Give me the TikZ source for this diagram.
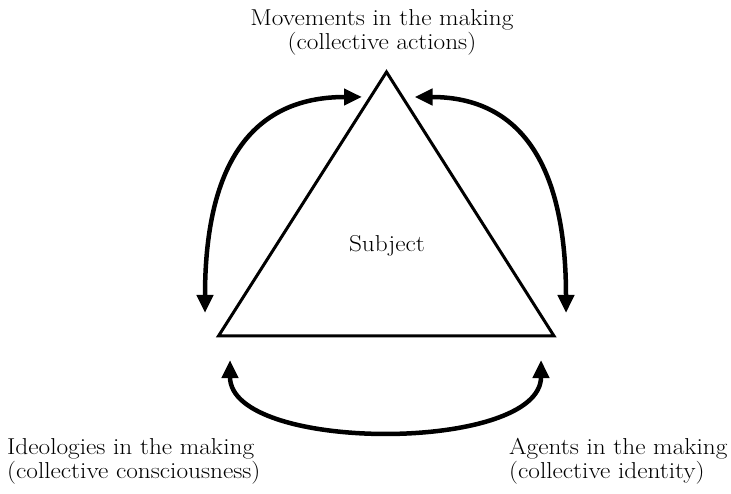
\documentclass[tikz,border=0pt]{standalone}
\usepackage{fontspec}
\setmainfont{Latin Modern Roman}[FakeStretch=1.1]
\usetikzlibrary{arrows.meta}
\begin{document}
\begin{tikzpicture}[x=1pt,y=-1pt,
  lbl/.style={font=\fontsize{23}{24}\selectfont, inner sep=0pt},
  tri/.style={line width=3pt, line join=miter},
  conn/.style={line width=4.5pt, {Triangle[length=18pt,width=16pt]}-{Triangle[length=18pt,width=16pt]}}]
\useasboundingbox (0,0) rectangle (731,494);
% triangle corners
\coordinate (A) at (386.5,72);
\coordinate (B) at (218.5,336);
\coordinate (C) at (554,336);
\draw[tri] (A) -- (B) -- (C) -- cycle;
% labels
\node[lbl, anchor=base] (subj) at (387,252) {Subject};
\node[lbl, align=center, anchor=north] (top) at (382,9) {Movements in the making\\(collective actions)};
\node[lbl, align=left, anchor=north west] (left) at (7,438) {Ideologies in the making\\(collective consciousness)};
\node[lbl, align=left, anchor=north west] (right) at (509,438) {Agents in the making\\(collective identity)};
% arrow end points
\coordinate (lt) at (362,97);
\coordinate (lb) at (205,313);
\coordinate (rt) at (414.5,97);
\coordinate (rb) at (566,313);
\coordinate (bl) at (230,360);
\coordinate (br) at (541,360);
% connectors
\draw[conn] (lb) .. controls (205,150) and (262,97) .. (lt);
\draw[conn] (rb) .. controls (566,150) and (510,97) .. (rt);
\draw[conn] (bl) .. controls (230,453) and (541,453) .. (br);
\end{tikzpicture}
\end{document}
